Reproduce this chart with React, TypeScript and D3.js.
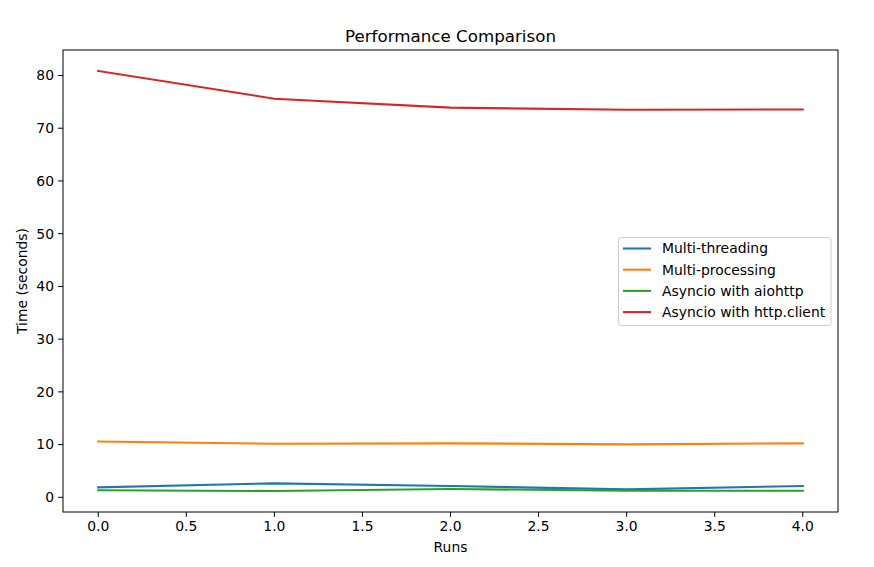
import React from "react";
import * as d3 from "d3";

const runs = [0, 1, 2, 3, 4];
const seriesNames = ["Multi-threading", "Multi-processing", "Asyncio with aiohttp", "Asyncio with http.client"];
const multiThreading = [1.9, 2.65, 2.15, 1.5, 2.15];
const multiProcessing = [10.6, 10.17, 10.24, 10.05, 10.24];
const asyncAiohttp = [1.33, 1.2, 1.58, 1.25, 1.25];
const asyncHttpClient = [80.85, 75.6, 73.9, 73.5, 73.55];
const colors = ["#1f77b4", "#ff7f0e", "#2ca02c", "#d62728"];
const xTicks = [0, 0.5, 1, 1.5, 2, 2.5, 3, 3.5, 4];
const yTicks = [0, 10, 20, 30, 40, 50, 60, 70, 80];

export default function App() {
  const W = 874, H = 567;
  const L = 63, R = 838, T = 50, B = 512;
  const all = [multiThreading, multiProcessing, asyncAiohttp, asyncHttpClient];
  const flat = all.flat();
  const mn = d3.min(flat)!, mx = d3.max(flat)!;
  const pad = (mx - mn) * 0.05;
  const x = d3.scaleLinear().domain([-0.2, 4.2]).range([L, R]);
  const y = d3.scaleLinear().domain([mn - pad, mx + pad]).range([B, T]);
  const line = d3.line<number>().x((_, i) => x(runs[i])).y((d) => y(d));
  const font = "DejaVu Sans, sans-serif";
  const legX = 618.5, legY = 237.5, legW = 212.5, legH = 88;
  return (
    <svg width={W} height={H} style={{ position: "absolute", left: 0, top: 0 }} fontFamily={font}>
      <rect x={0} y={0} width={W} height={H} fill="white" />
      <defs>
        <clipPath id="clip"><rect x={L} y={T} width={R - L} height={B - T} /></clipPath>
      </defs>
      <g clipPath="url(#clip)">
        {all.map((s, i) => (
          <path key={i} d={line(s)!} fill="none" stroke={colors[i]} strokeWidth={2.1} strokeLinecap="square" />
        ))}
      </g>
      <rect x={L} y={T} width={R - L} height={B - T} fill="none" stroke="black" strokeWidth={1} />
      {xTicks.map((t) => (
        <g key={t}>
          <line x1={x(t)} x2={x(t)} y1={B} y2={B + 4.9} stroke="black" strokeWidth={1} />
          <text x={x(t)} y={B + 19} textAnchor="middle" fontSize={13.9} fill="#000">{t.toFixed(1)}</text>
        </g>
      ))}
      {yTicks.map((t) => (
        <g key={t}>
          <line x1={L - 4.9} x2={L} y1={y(t)} y2={y(t)} stroke="black" strokeWidth={1} />
          <text x={L - 9} y={y(t)} dy="0.35em" textAnchor="end" fontSize={13.9} fill="#000">{t}</text>
        </g>
      ))}
      <text x={(L + R) / 2} y={552} textAnchor="middle" fontSize={13.9}>Runs</text>
      <text transform={`translate(27,${(T + B) / 2}) rotate(-90)`} textAnchor="middle" fontSize={13.9}>Time (seconds)</text>
      <text x={(L + R) / 2} y={42} textAnchor="middle" fontSize={16.7}>Performance Comparison</text>
      <rect x={legX} y={legY} width={legW} height={legH} rx={3} fill="white" fillOpacity={0.8} stroke="#cccccc" strokeWidth={1} />
      {seriesNames.map((n, i) => {
        const ly = 248.5 + i * 21.2;
        return (
          <g key={n}>
            <line x1={623} x2={651} y1={ly} y2={ly} stroke={colors[i]} strokeWidth={2.1} />
            <text x={662} y={ly} dy="0.35em" fontSize={13.9}>{n}</text>
          </g>
        );
      })}
    </svg>
  );
}
